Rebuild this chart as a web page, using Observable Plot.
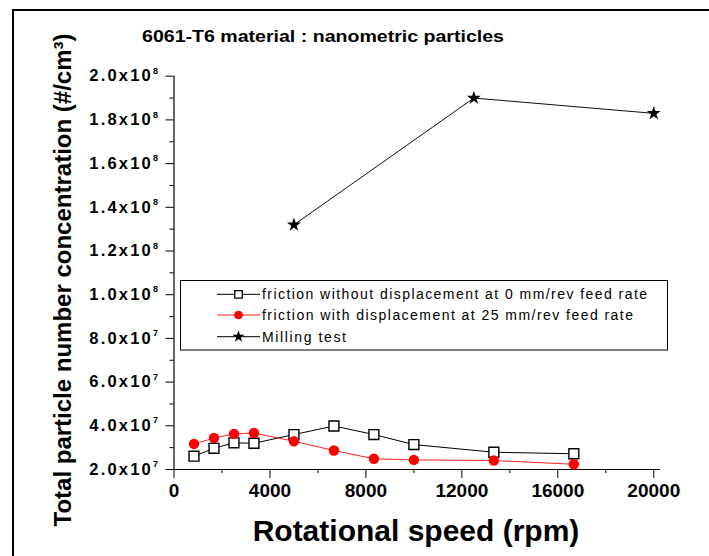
<!DOCTYPE html>
<html><head><meta charset="utf-8">
<script src="https://cdn.jsdelivr.net/npm/d3@7"></script>
<script src="https://cdn.jsdelivr.net/npm/@observablehq/plot@0.6"></script>
<style>
html,body{margin:0;padding:0;background:#fff;width:709px;height:556px;overflow:hidden;}
#frame{position:absolute;left:12px;top:9px;width:720px;height:600px;border-left:2px solid #000;border-top:2px solid #000;}
#chart{position:absolute;left:0;top:0;}
</style></head><body>
<div id="frame"></div>
<div id="chart"></div>
<script>
// ---- data ----
const speedFriction = [833, 1667, 2500, 3333, 5000, 6667, 8333, 10000, 13333, 16667];
const frictionNoDisp = [2.61e7, 2.97e7, 3.22e7, 3.20e7, 3.60e7, 3.99e7, 3.60e7, 3.14e7, 2.79e7, 2.72e7];
const frictionDisp   = [3.17e7, 3.44e7, 3.63e7, 3.67e7, 3.29e7, 2.87e7, 2.49e7, 2.44e7, 2.41e7, 2.24e7];
const speedMilling = [5000, 12500, 20000];
const milling = [1.32e8, 1.90e8, 1.83e8];
const xTicks = [0, 4000, 8000, 12000, 16000, 20000];
const xMinor = [2000, 6000, 10000, 14000, 18000];
const yTicks = [2e7, 4e7, 6e7, 8e7, 1e8, 1.2e8, 1.4e8, 1.6e8, 1.8e8, 2e8];
const yMinor = [3e7, 5e7, 7e7, 9e7, 1.1e8, 1.3e8, 1.5e8, 1.7e8, 1.9e8];
const yTickLabels = ["2.0x10⁷", "4.0x10⁷", "6.0x10⁷", "8.0x10⁷", "1.0x10⁸", "1.2x10⁸", "1.4x10⁸", "1.6x10⁸", "1.8x10⁸", "2.0x10⁸"];
const seriesNames = ["friction without displacement at 0 mm/rev feed rate", "friction with displacement at 25 mm/rev feed rate", "Milling test"];
const titleText = "6061-T6 material : nanometric particles";
const xTitle = "Rotational speed (rpm)";
const yTitle = "Total particle number concentration (#/cm³)";

const fam = "'Liberation Sans', Arial, sans-serif";
const rows = speedFriction.map((s, i) => ({s, a: frictionNoDisp[i], b: frictionDisp[i]}));
const mill = speedMilling.map((s, i) => ({s, v: milling[i]}));

const plot = Plot.plot({
  width: 709, height: 556,
  marginLeft: 173.5, marginRight: 49, marginTop: 75.7, marginBottom: 87,
  style: {fontFamily: fam, background: "transparent", overflow: "visible", color: "#000"},
  x: {domain: [0, 20280]},
  y: {domain: [2e7, 2e8]},
  marks: [
    Plot.axisX(xTicks, {tickSize: 9, tickPadding: 5, fontSize: 19, fontWeight: "bold", tickFormat: d => String(d), label: null}),
    Plot.axisX(xMinor, {tickSize: 4, tickFormat: () => "", label: null}),
    Plot.axisY(yTicks, {tickSize: 8, tickPadding: 8, fontSize: 16.5, fontWeight: "bold", tickFormat: d => yTickLabels[yTicks.indexOf(d)], label: null}),
    Plot.axisY(yMinor, {tickSize: 4, tickFormat: () => "", label: null}),
    Plot.ruleX([0], {y1: 2e7, y2: 2e8, stroke: "#000", strokeWidth: 1.2}),
    Plot.ruleY([2e7], {x1: 0, x2: 20280, stroke: "#000", strokeWidth: 1.2}),
    Plot.line(mill, {x: "s", y: "v", stroke: "#111", strokeWidth: 1}),
    Plot.dot(mill, {x: "s", y: "v", symbol: "star", r: 4.4, fill: "#000", stroke: "none"}),
    Plot.line(rows, {x: "s", y: "a", stroke: "#000", strokeWidth: 1}),
    Plot.dot(rows, {x: "s", y: "a", symbol: "square", r: 5.6, fill: "white", stroke: "#000", strokeWidth: 1.4}),
    Plot.line(rows, {x: "s", y: "b", stroke: "#ff2020", strokeWidth: 1}),
    Plot.dot(rows, {x: "s", y: "b", symbol: "circle", r: 5.2, fill: "#ff0000", stroke: "none"})
  ]
});
document.getElementById("chart").appendChild(plot);

const svg = d3.select(plot);
// superscripts on y tick labels
const supMap = {"⁷": "7", "⁸": "8"};
svg.selectAll('g[aria-label="y-axis tick label"]').attr("letter-spacing", "2.2");
svg.selectAll('g[aria-label="y-axis tick label"] text').each(function () {
  const t = this.textContent;
  const m = t.match(/^(.*?)([⁷⁸])$/);
  if (!m) return;
  this.textContent = "";
  const s = d3.select(this);
  s.append("tspan").text(m[1]);
  s.append("tspan").attr("dy", "-0.85em").attr("font-size", "9").attr("letter-spacing", "0").text(supMap[m[2]]);
});

// titles
svg.append("text").attr("x", 142).attr("y", 42).attr("text-anchor", "start").attr("font-family", fam).attr("font-size", 17)
  .attr("font-weight", "bold").attr("textLength", 362).attr("lengthAdjust", "spacingAndGlyphs").attr("fill", "#000").text(titleText);
svg.append("text").attr("transform", "translate(71,280) rotate(-90)").attr("text-anchor", "middle")
  .attr("font-family", fam).attr("font-size", 24).attr("font-weight", "bold").attr("fill", "#000").text(yTitle);
svg.append("text").attr("x", 416).attr("y", 541).attr("text-anchor", "middle")
  .attr("font-family", fam).attr("font-size", 30).attr("font-weight", "bold").attr("fill", "#000").text(xTitle);

// legend
const lg = svg.append("g");
lg.append("rect").attr("x", 180.5).attr("y", 280.5).attr("width", 487).attr("height", 69.5)
  .attr("fill", "white").attr("stroke", "#000").attr("stroke-width", 1);
const rowY = [294.3, 315, 336.7];
const lens = [385, 371, 84];
const colors = ["#000", "#ff2020", "#000"];
const syms = [
  {type: d3.symbolSquare, size: 56, fill: "white", stroke: "#000"},
  {type: d3.symbolCircle, size: 60, fill: "#ff0000", stroke: "none"},
  {type: d3.symbolStar, size: 45, fill: "#000", stroke: "none"}
];
seriesNames.forEach((name, i) => {
  const y = rowY[i];
  lg.append("line").attr("x1", 217).attr("x2", 260).attr("y1", y).attr("y2", y).attr("stroke", colors[i]).attr("stroke-width", 1);
  lg.append("path").attr("d", d3.symbol(syms[i].type, syms[i].size)()).attr("transform", `translate(238.5,${y})`)
    .attr("fill", syms[i].fill).attr("stroke", syms[i].stroke).attr("stroke-width", 1.3);
  lg.append("text").attr("x", 262).attr("y", y + 5).attr("text-anchor", "start").attr("font-family", fam).attr("font-size", 14)
    .attr("textLength", lens[i]).attr("lengthAdjust", "spacing").attr("fill", "#000").text(name);
});
</script>
</body></html>
